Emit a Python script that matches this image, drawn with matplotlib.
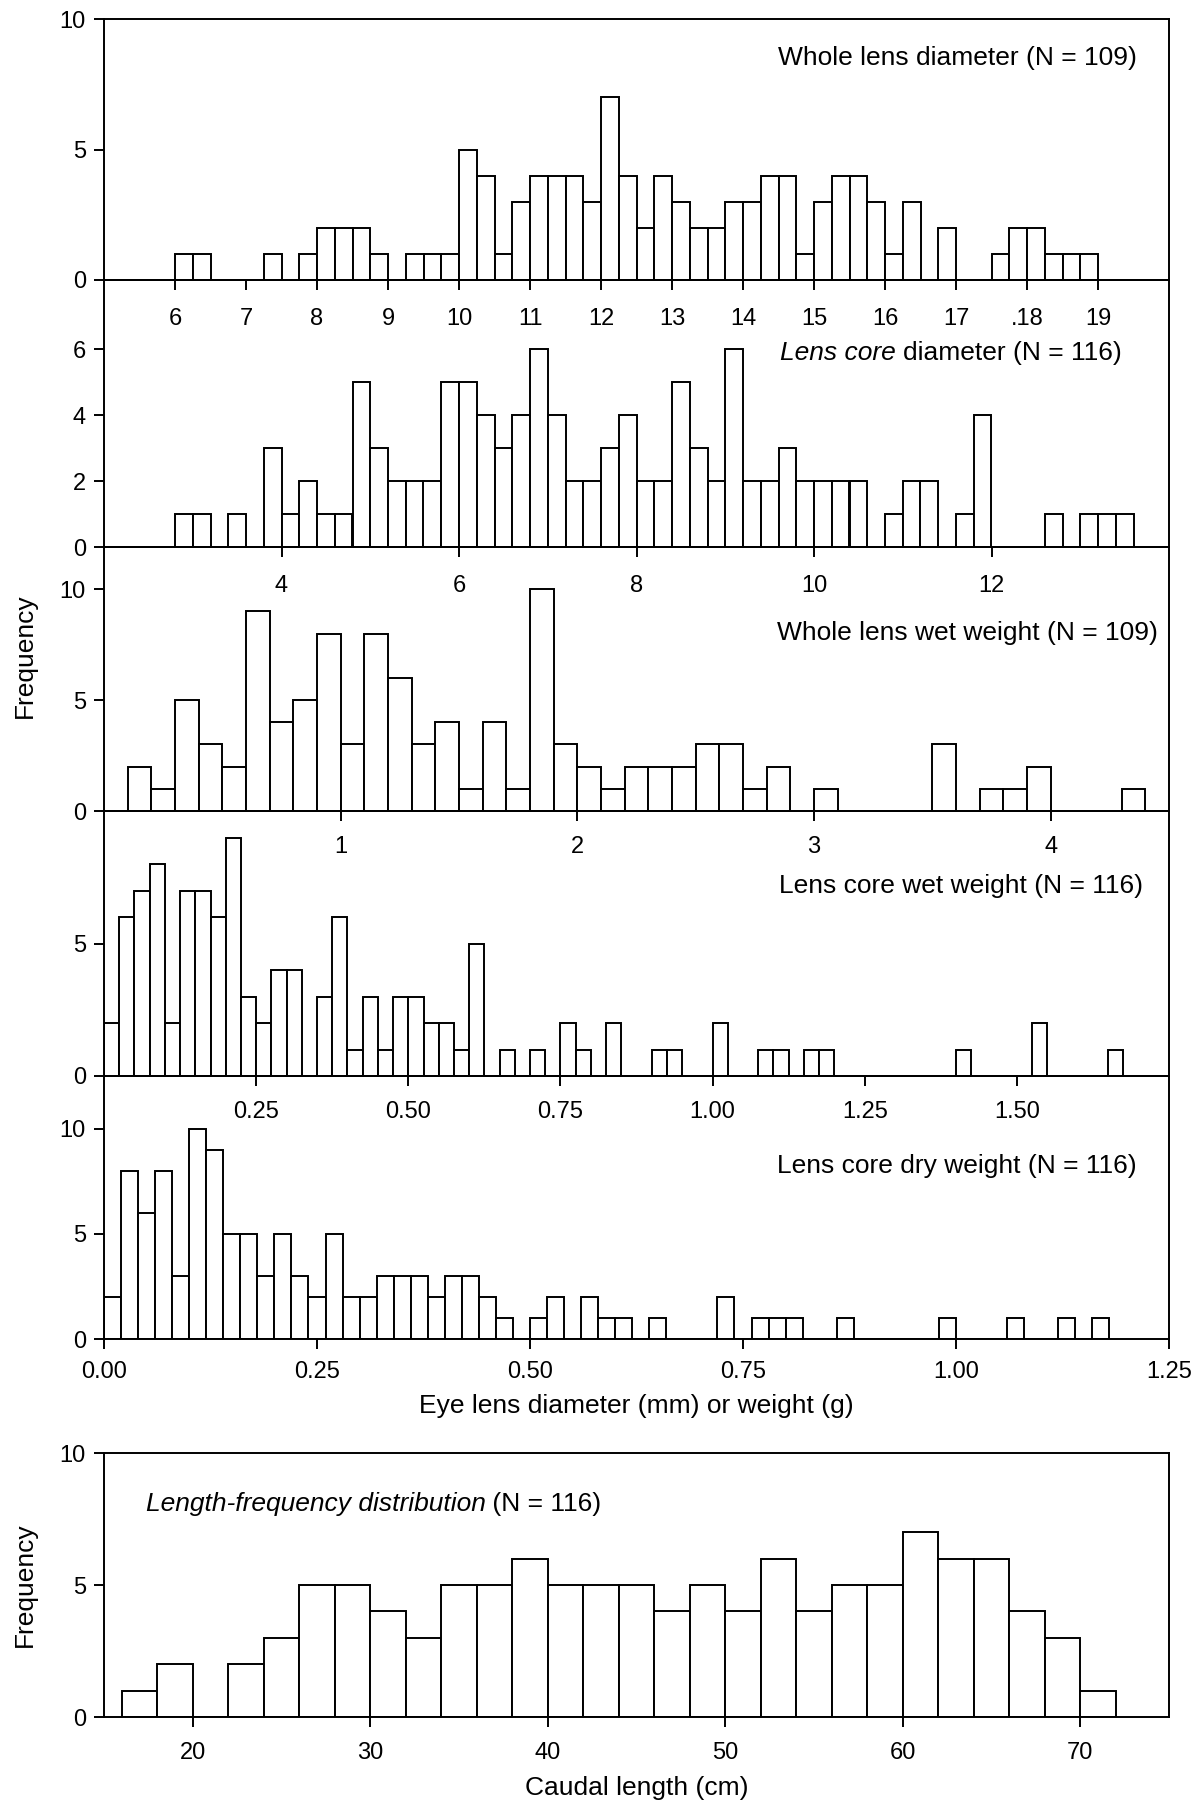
import matplotlib
matplotlib.use("Agg")
import matplotlib.pyplot as plt
import numpy as np

plt.rcParams['font.family'] = ['Liberation Sans', 'DejaVu Sans']

# whole lens diameter (mm), bins of 0.25 from 6.0
wld_start, wld_width = 6.0, 0.25
wld_counts = [1, 1, 0, 0, 0, 1, 0, 1, 2, 2, 2, 1, 0, 1, 1, 1,
              5, 4, 1, 3, 4, 4, 4, 3, 7, 4, 2, 4, 3, 2, 2, 3,
              3, 4, 4, 1, 3, 4, 4, 3, 1, 3, 0, 2, 0, 0, 1, 2,
              2, 1, 1, 1]

# lens core diameter (mm), bins of 0.2 from 2.8
lcd_start, lcd_width = 2.8, 0.2
lcd_counts = [1, 1, 0, 1, 0, 3, 1, 2, 1, 1, 5, 3, 2, 2, 2, 5,
              5, 4, 3, 4, 6, 4, 2, 2, 3, 4, 2, 2, 5, 3, 2, 6,
              2, 2, 3, 2, 2, 2, 2, 0, 1, 2, 2, 0, 1, 4, 0, 0,
              0, 1, 0, 1, 1, 1]

# whole lens wet weight (g), bins of 0.1 from 0.1
wlw_start, wlw_width = 0.1, 0.1
wlw_counts = [2, 1, 5, 3, 2, 9, 4, 5, 8, 3, 8, 6, 3, 4, 1, 4,
              1, 10, 3, 2, 1, 2, 2, 2, 3, 3, 1, 2, 0, 1, 0, 0,
              0, 0, 3, 0, 1, 1, 2, 0, 0, 0, 1]

# lens core wet weight (g), bins of 0.025 from 0
lcw_start, lcw_width = 0.0, 0.025
lcw_counts = [2, 6, 7, 8, 2, 7, 7, 6, 9, 3, 2, 4, 4, 0, 3, 6,
              1, 3, 1, 3, 3, 2, 2, 1, 5, 0, 1, 0, 1, 0, 2, 1,
              0, 2, 0, 0, 1, 1, 0, 0, 2, 0, 0, 1, 1, 0, 1, 1,
              0, 0, 0, 0, 0, 0, 0, 0, 1, 0, 0, 0, 0, 2, 0, 0,
              0, 0, 1]

# lens core dry weight (g), bins of 0.02 from 0
lcdw_start, lcdw_width = 0.0, 0.02
lcdw_counts = [2, 8, 6, 8, 3, 10, 9, 5, 5, 3, 5, 3, 2, 5, 2, 2,
               3, 3, 3, 2, 3, 3, 2, 1, 0, 1, 2, 0, 2, 1, 1, 0,
               1, 0, 0, 0, 2, 0, 1, 1, 1, 0, 0, 1, 0, 0, 0, 0,
               0, 1, 0, 0, 0, 1, 0, 0, 1, 0, 1]

# caudal length (cm), bins of 2 from 16
len_start, len_width = 16, 2
len_counts = [1, 2, 0, 2, 3, 5, 5, 4, 3, 5, 5, 6, 5, 5, 5, 4,
              5, 4, 6, 4, 5, 5, 7, 6, 6, 4, 3, 1]

W, H = 1204, 1804
LEFT, RIGHT = 104, 1169
LW = 1.4
TICK_FS = 17
TEXT_FS = 19


def make_axes(top_px, bottom_px):
    ax = fig.add_axes([LEFT / W, 1 - bottom_px / H,
                       (RIGHT - LEFT) / W, (bottom_px - top_px) / H])
    ax.patch.set_visible(False)  # labels of the panel above must show through
    return ax


def draw_hist(ax, start, width, counts, xlim, ylim, xticks, xlabels, yticks, xpad=13):
    edges = start + width * np.arange(len(counts))
    ax.bar(edges, counts, width=width, align='edge', facecolor='white',
           edgecolor='black', linewidth=LW, zorder=2)
    ax.set_xlim(*xlim)
    ax.set_ylim(*ylim)
    ax.set_xticks(xticks)
    ax.set_xticklabels(xlabels)
    ax.set_yticks(yticks)
    ax.set_yticklabels([str(t) for t in yticks])
    for s in ax.spines.values():
        s.set_linewidth(LW)
        s.set_zorder(3)
    ax.tick_params(axis='x', direction='out', length=7, width=LW,
                   labelsize=TICK_FS, pad=xpad)
    ax.tick_params(axis='y', direction='out', length=7, width=LW,
                   labelsize=TICK_FS, pad=6)


fig = plt.figure(figsize=(W / 100, H / 100), dpi=100)

ax1 = make_axes(19, 280)
draw_hist(ax1, wld_start, wld_width, wld_counts, (5, 20), (0, 10),
          range(6, 20), ['6', '7', '8', '9', '10', '11', '12', '13', '14',
                         '15', '16', '17', '.18', '19'], [0, 5, 10])
ax1.text(0.97, 0.852, 'Whole lens diameter (N = 109)', transform=ax1.transAxes,
         ha='right', va='center', fontsize=TEXT_FS)

ax2 = make_axes(280, 547)
draw_hist(ax2, lcd_start, lcd_width, lcd_counts, (2, 14), (0, 8.1),
          [4, 6, 8, 10, 12], ['4', '6', '8', '10', '12'], [0, 2, 4, 6])
t2 = ax2.text(0.956, 0.70, 'diameter (N = 116)', transform=ax2.transAxes,
              ha='right', va='baseline', fontsize=TEXT_FS)
ax2.annotate('Lens core ', xy=(0, 0.70), xycoords=(t2, 'axes fraction'),
             ha='right', va='baseline', fontsize=TEXT_FS, style='italic')

ax3 = make_axes(547, 811)
draw_hist(ax3, wlw_start, wlw_width, wlw_counts, (0, 4.5), (0, 11.9),
          [1, 2, 3, 4], ['1', '2', '3', '4'], [0, 5, 10], xpad=11)
ax3.text(0.99, 0.675, 'Whole lens wet weight (N = 109)', transform=ax3.transAxes,
         ha='right', va='center', fontsize=TEXT_FS)

ax4 = make_axes(811, 1076)
draw_hist(ax4, lcw_start, lcw_width, lcw_counts, (0, 1.75), (0, 10),
          [0.25, 0.5, 0.75, 1.0, 1.25, 1.5],
          ['0.25', '0.50', '0.75', '1.00', '1.25', '1.50'], [0, 5], xpad=11)
ax4.text(0.976, 0.718, 'Lens core wet weight (N = 116)', transform=ax4.transAxes,
         ha='right', va='center', fontsize=TEXT_FS)

ax5 = make_axes(1076, 1339)
draw_hist(ax5, lcdw_start, lcdw_width, lcdw_counts, (0, 1.25), (0, 12.5),
          [0, 0.25, 0.5, 0.75, 1.0, 1.25],
          ['0.00', '0.25', '0.50', '0.75', '1.00', '1.25'], [0, 5, 10], xpad=9)
ax5.text(0.97, 0.658, 'Lens core dry weight (N = 116)', transform=ax5.transAxes,
         ha='right', va='center', fontsize=TEXT_FS)
ax5.set_xlabel('Eye lens diameter (mm) or weight (g)', fontsize=TEXT_FS, labelpad=8)

ax6 = make_axes(1453, 1717)
draw_hist(ax6, len_start, len_width, len_counts, (15, 75), (0, 10),
          [20, 30, 40, 50, 60, 70], ['20', '30', '40', '50', '60', '70'], [0, 5, 10],
          xpad=11)
t6 = ax6.text(0.039, 0.78, 'Length-frequency distribution', transform=ax6.transAxes,
              ha='left', va='baseline', fontsize=TEXT_FS, style='italic')
ax6.annotate(' (N = 116)', xy=(1, 0.78), xycoords=(t6, 'axes fraction'),
             ha='left', va='baseline', fontsize=TEXT_FS)
ax6.set_xlabel('Caudal length (cm)', fontsize=TEXT_FS, labelpad=9)

fig.text(25 / W, 1 - 656 / H, 'Frequency', rotation=90, ha='center', va='center',
         fontsize=TEXT_FS)
fig.text(25 / W, 1 - 1585 / H, 'Frequency', rotation=90, ha='center', va='center',
         fontsize=TEXT_FS)

fig.savefig('out.png', dpi=100, facecolor='white')
